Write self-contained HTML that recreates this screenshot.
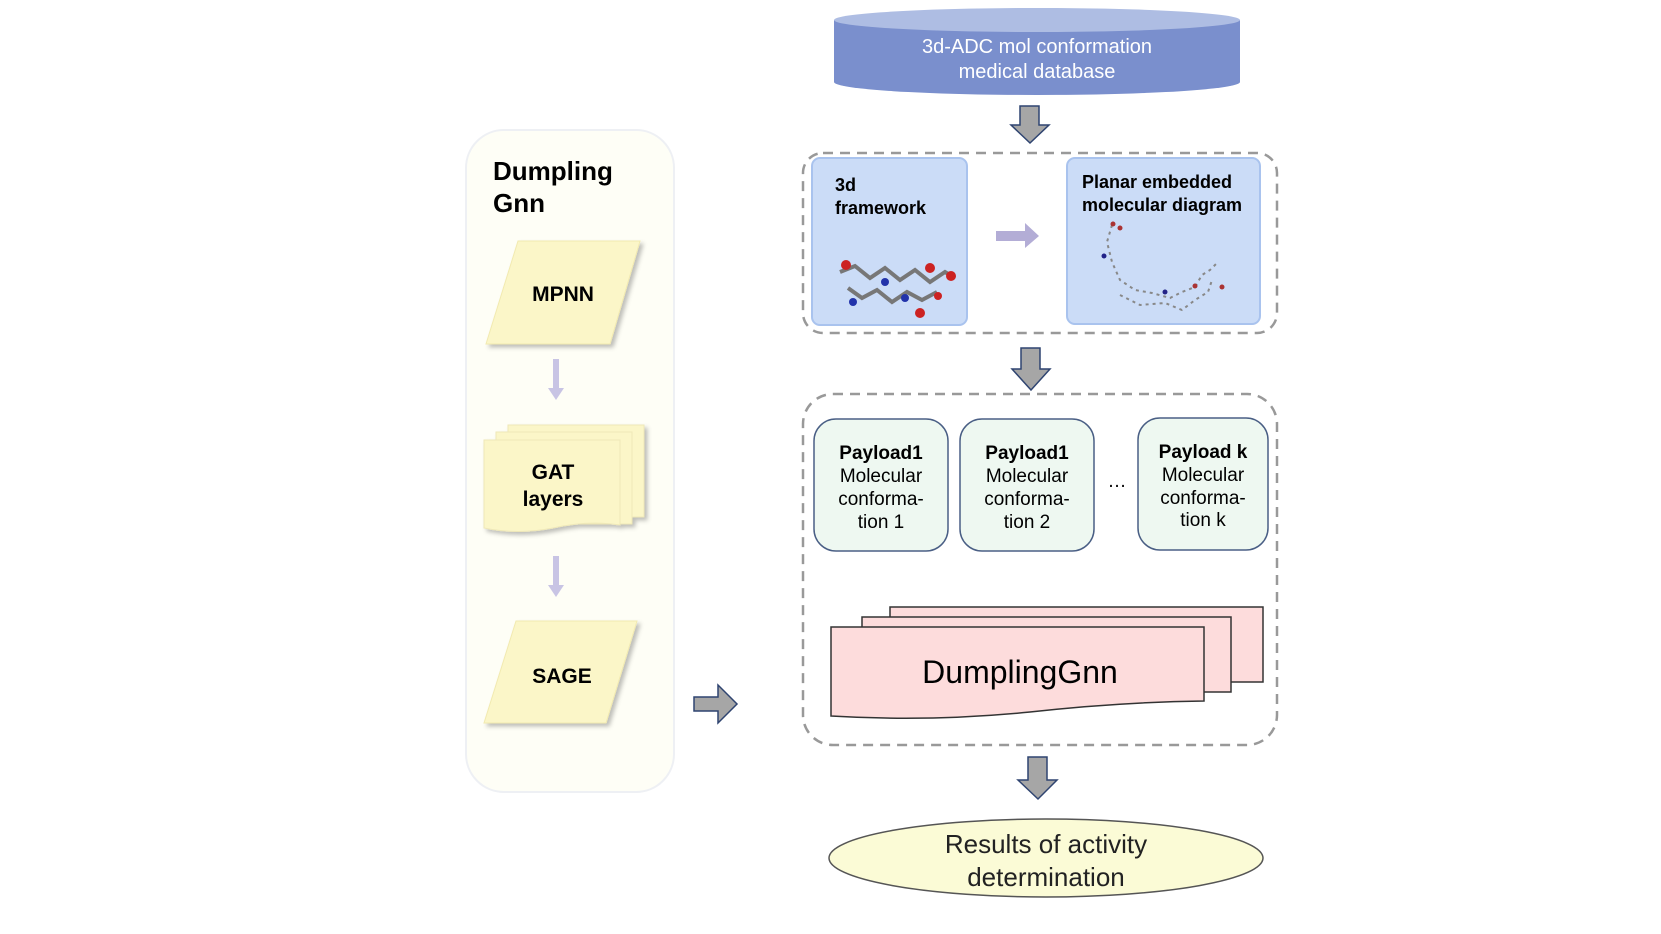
<!DOCTYPE html>
<html><head><meta charset="utf-8"><style>
html,body{margin:0;padding:0;background:#fff;}
svg{display:block;}
text{font-family:"Liberation Sans",sans-serif;}
</style></head><body>
<svg width="1661" height="934" viewBox="0 0 1661 934" xmlns="http://www.w3.org/2000/svg">
<defs>
<filter id="sh" x="-10%" y="-10%" width="130%" height="130%"><feDropShadow dx="3" dy="3" stdDeviation="2" flood-color="#000" flood-opacity="0.25"/></filter>
</defs>
<!-- left panel -->
<rect x="466" y="130" width="208" height="662" rx="38" fill="#fefef6" stroke="#eef0f4" stroke-width="2"/>
<text x="493" y="180" font-size="26" font-weight="bold" fill="#000">Dumpling</text>
<text x="493" y="212" font-size="26" font-weight="bold" fill="#000">Gnn</text>
<polygon points="518,241 640,241 610,344 486,344" fill="#fbf6c8" stroke="#f2eab0" filter="url(#sh)"/>
<text x="563" y="301" font-size="21" font-weight="bold" text-anchor="middle">MPNN</text>
<rect x="553" y="359" width="6" height="30" fill="#c8c4e4"/>
<polygon points="548,388 564,388 556,400" fill="#c8c4e4"/>
<g filter="url(#sh)">
<rect x="508" y="425" width="136" height="92" fill="#fbf6c8" stroke="#efe8b8"/>
<rect x="496" y="432" width="136" height="92" fill="#fbf6c8" stroke="#efe8b8"/>
<path d="M484,440 H620 V525 Q588,520 553,528 Q518,535 484,528 Z" fill="#fbf6c8" stroke="#efe8b8"/>
</g>
<text x="553" y="479" font-size="21" font-weight="bold" text-anchor="middle">GAT</text>
<text x="553" y="506" font-size="21" font-weight="bold" text-anchor="middle">layers</text>
<rect x="553" y="556" width="6" height="30" fill="#c8c4e4"/>
<polygon points="548,585 564,585 556,597" fill="#c8c4e4"/>
<polygon points="516,621 637,621 606,723 484,723" fill="#fbf6c8" stroke="#f2eab0" filter="url(#sh)"/>
<text x="562" y="683" font-size="21" font-weight="bold" text-anchor="middle">SAGE</text>
<!-- right arrow -->
<polygon points="694,697 718,697 718,685 737,704 718,723 718,711 694,711" fill="#a6a6a6" stroke="#2f4470" stroke-width="1.5"/>
<!-- cylinder -->
<path d="M834,20 V82 A203,13 0 0 0 1240,82 V20 Z" fill="#7a8fcd"/>
<ellipse cx="1037" cy="20" rx="203" ry="12" fill="#aebde3"/>
<text x="1037" y="53" font-size="20" fill="#fff" text-anchor="middle">3d-ADC mol conformation</text>
<text x="1037" y="78" font-size="20" fill="#fff" text-anchor="middle">medical database</text>
<!-- arrow1 -->
<polygon points="1020,106 1039,106 1039,125 1049,125 1030,143 1011,125 1020,125" fill="#a6a6a6" stroke="#2f4470" stroke-width="1.5"/>
<!-- dashed box 1 -->
<rect x="803" y="153" width="474" height="180" rx="20" fill="none" stroke="#999" stroke-width="2.5" stroke-dasharray="10,7"/>
<rect x="812" y="158" width="155" height="167" rx="8" fill="#cbdcf7" stroke="#a9c3ee" stroke-width="2"/>
<text x="835" y="191" font-size="18" font-weight="bold">3d</text>
<text x="835" y="214" font-size="18" font-weight="bold">framework</text>
<g stroke="#777" stroke-width="4">
<polyline points="840,272 855,266 870,278 885,268 900,280 915,270 930,282 945,272 955,278" fill="none"/>
<polyline points="848,288 862,298 877,290 892,302 907,292 922,300 937,292" fill="none"/>
</g>
<g fill="#cc2222"><circle cx="846" cy="265" r="5"/><circle cx="951" cy="276" r="5"/><circle cx="920" cy="313" r="5"/><circle cx="930" cy="268" r="5"/><circle cx="938" cy="296" r="4"/></g>
<g fill="#2233aa"><circle cx="885" cy="282" r="4"/><circle cx="905" cy="298" r="4"/><circle cx="853" cy="302" r="4"/></g>
<polygon points="996,231 1025,231 1025,223 1039,236 1025,248 1025,241 996,241" fill="#b3add6"/>
<rect x="1067" y="158" width="193" height="166" rx="8" fill="#cbdcf7" stroke="#a9c3ee" stroke-width="2"/>
<text x="1082" y="188" font-size="18" font-weight="bold">Planar embedded</text>
<text x="1082" y="211" font-size="18" font-weight="bold">molecular diagram</text>
<polyline points="1112,225 1107,242 1112,262 1120,280 1135,290 1152,293 1170,298 1182,292 1195,287 1202,275 1210,270 1218,262" fill="none" stroke="#888" stroke-width="2" stroke-dasharray="3,4"/>
<polyline points="1120,295 1140,305 1165,303 1182,310 1195,300 1208,292 1212,280" fill="none" stroke="#888" stroke-width="2" stroke-dasharray="3,4"/>
<g fill="#a33"><circle cx="1113" cy="224" r="2.5"/><circle cx="1120" cy="228" r="2.5"/><circle cx="1195" cy="286" r="2.5"/><circle cx="1222" cy="287" r="2.5"/></g>
<g fill="#228"><circle cx="1104" cy="256" r="2.5"/><circle cx="1165" cy="292" r="2.5"/></g>
<!-- arrow2 -->
<polygon points="1021,348 1040,348 1040,369 1050,369 1031,390 1012,369 1021,369" fill="#a6a6a6" stroke="#2f4470" stroke-width="1.5"/>
<!-- dashed box 2 -->
<rect x="803" y="394" width="474" height="351" rx="30" fill="none" stroke="#999" stroke-width="2.5" stroke-dasharray="10,7"/>
<g fill="#eef8f1" stroke="#4a5f85" stroke-width="1.5">
<rect x="814" y="419" width="134" height="132" rx="22"/>
<rect x="960" y="419" width="134" height="132" rx="22"/>
<rect x="1138" y="418" width="130" height="132" rx="22"/>
</g>
<g font-size="19" text-anchor="middle">
<text x="881" y="459" font-weight="bold">Payload1</text>
<text x="881" y="482">Molecular</text>
<text x="881" y="505">conforma-</text>
<text x="881" y="528">tion 1</text>
<text x="1027" y="459" font-weight="bold">Payload1</text>
<text x="1027" y="482">Molecular</text>
<text x="1027" y="505">conforma-</text>
<text x="1027" y="528">tion 2</text>
<text x="1203" y="458" font-weight="bold">Payload k</text>
<text x="1203" y="481">Molecular</text>
<text x="1203" y="504">conforma-</text>
<text x="1203" y="526">tion k</text>
<text x="1117" y="487">…</text>
</g>
<g stroke="#333" stroke-width="1.5" fill="#fddcdc">
<rect x="890" y="607" width="373" height="75"/>
<rect x="862" y="617" width="369" height="75"/>
<path d="M831,627 H1204 V701 Q1120,702 1030,712 Q930,722 831,716 Z"/>
</g>
<text x="1020" y="683" font-size="32" text-anchor="middle">DumplingGnn</text>
<!-- arrow3 -->
<polygon points="1028,757 1047,757 1047,780 1057,780 1038,799 1018,780 1028,780" fill="#a6a6a6" stroke="#2f4470" stroke-width="1.5"/>
<ellipse cx="1046" cy="858" rx="217" ry="39" fill="#fbfbd6" stroke="#555" stroke-width="1.5"/>
<text x="1046" y="853" font-size="26" text-anchor="middle" fill="#222">Results of activity</text>
<text x="1046" y="886" font-size="26" text-anchor="middle" fill="#222">determination</text>
</svg>
</body></html>
